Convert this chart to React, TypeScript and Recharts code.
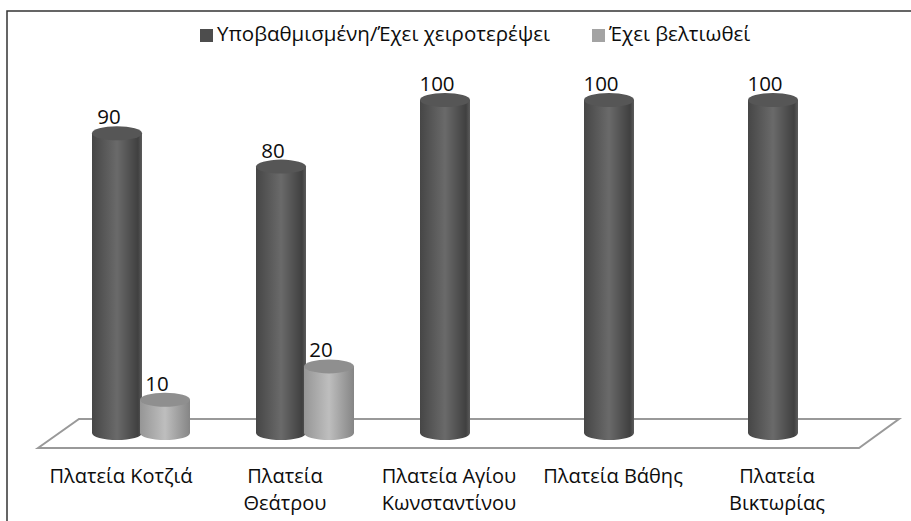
import { Bar, BarChart, Customized, LabelList, XAxis, YAxis } from "recharts";

const categories = [
  "Πλατεία Κοτζιά",
  "Πλατεία Θεάτρου",
  "Πλατεία Αγίου Κωνσταντίνου",
  "Πλατεία Βάθης",
  "Πλατεία Βικτωρίας"
];
const worse = [90, 80, 100, 100, 100];
const improved = [10, 20, null, null, null];
const seriesNames = ["Υποβαθμισμένη/Έχει χειροτερέψει", "Έχει βελτιωθεί"];

const data = categories.map((name, i) => ({ name, worse: worse[i], improved: improved[i] }));

const FONT = "'Open Sans', sans-serif";
const TEXT = "#0d0d0d";

function Cylinder({ x, y, width, height, gradient, top }: any) {
  if (!height) return null;
  const rx = width / 2;
  const ry = 7;
  return (
    <g>
      <path
        d={`M${x},${y} L${x},${y + height} A${rx},${ry} 0 0 0 ${x + width},${y + height} L${x + width},${y} Z`}
        fill={`url(#${gradient})`}
      />
      <ellipse cx={x + rx} cy={y} rx={rx} ry={ry} fill={top} />
    </g>
  );
}

function Floor() {
  return (
    <polygon points="38,448 79,419 899,419 859,448" fill="#ffffff" stroke="#999999" strokeWidth={2} />
  );
}

// wraps at 14 characters like the original axis labels
function wrapLabel(label: string) {
  const lines: string[] = [];
  label.split(" ").forEach((word) => {
    const last = lines[lines.length - 1];
    if (last && (last + " " + word).length <= 14) lines[lines.length - 1] = last + " " + word;
    else lines.push(word);
  });
  return lines;
}

function CategoryTick({ x, payload }: any) {
  return (
    <text textAnchor="middle" fontFamily={FONT} fontSize={20} fill={TEXT}>
      {wrapLabel(payload.value).map((line, i) => (
        <tspan key={line} x={x - 20} y={483 + i * 27}>{line}</tspan>
      ))}
    </text>
  );
}

function Legend() {
  const items = [
    { label: seriesNames[0], color: "#4d4d4d", x: 200 },
    { label: seriesNames[1], color: "#a3a3a3", x: 592 }
  ];
  return (
    <g>
      {items.map((item) => (
        <g key={item.label}>
          <rect x={item.x} y={29} width={13} height={13} fill={item.color} />
          <text x={item.x + 17} y={41} fontFamily={FONT} fontSize={20.5} fill={TEXT}>{item.label}</text>
        </g>
      ))}
    </g>
  );
}

function ValueLabel({ x, y, width, value }: any) {
  if (value == null) return null;
  return (
    <text x={x + width / 2 - 8} y={y - 9} textAnchor="middle" fontFamily={FONT} fontSize={20.5} fill={TEXT}>
      {value}
    </text>
  );
}

export default function App() {
  return (
    <div style={{ position: "absolute", left: 0, top: 0, width: 911, height: 521, background: "#fff" }}>
      <BarChart
        width={911}
        height={521}
        data={data}
        barGap={-2}
        barCategoryGap={32}
        margin={{ top: 100, right: 32, bottom: 58, left: 59 }}
      >
        <defs>
          <linearGradient id="darkCyl" x1="0" y1="0" x2="1" y2="0">
            <stop offset="0" stopColor="#464646" />
            <stop offset="0.5" stopColor="#6a6a6a" />
            <stop offset="0.92" stopColor="#404040" />
            <stop offset="1" stopColor="#5c5c5c" />
          </linearGradient>
          <linearGradient id="lightCyl" x1="0" y1="0" x2="1" y2="0">
            <stop offset="0" stopColor="#969696" />
            <stop offset="0.5" stopColor="#bebebe" />
            <stop offset="1" stopColor="#858585" />
          </linearGradient>
        </defs>
        <path d="M7,521 L7,11 L911,11" fill="none" stroke="#333333" strokeWidth={1.5} />
        <Customized component={Floor} />
        <Customized component={Legend} />
        <XAxis dataKey="name" axisLine={false} tickLine={false} interval={0} tick={<CategoryTick />} />
        <YAxis hide domain={[0, 100]} />
        <Bar
          dataKey="worse"
          name={seriesNames[0]}
          barSize={50}
          isAnimationActive={false}
          shape={(props: any) => <Cylinder {...props} gradient="darkCyl" top="#565656" />}
        >
          <LabelList dataKey="worse" content={<ValueLabel />} />
        </Bar>
        <Bar
          dataKey="improved"
          name={seriesNames[1]}
          barSize={50}
          isAnimationActive={false}
          shape={(props: any) => <Cylinder {...props} gradient="lightCyl" top="#8f8f8f" />}
        >
          <LabelList dataKey="improved" content={<ValueLabel />} />
        </Bar>
      </BarChart>
    </div>
  );
}
